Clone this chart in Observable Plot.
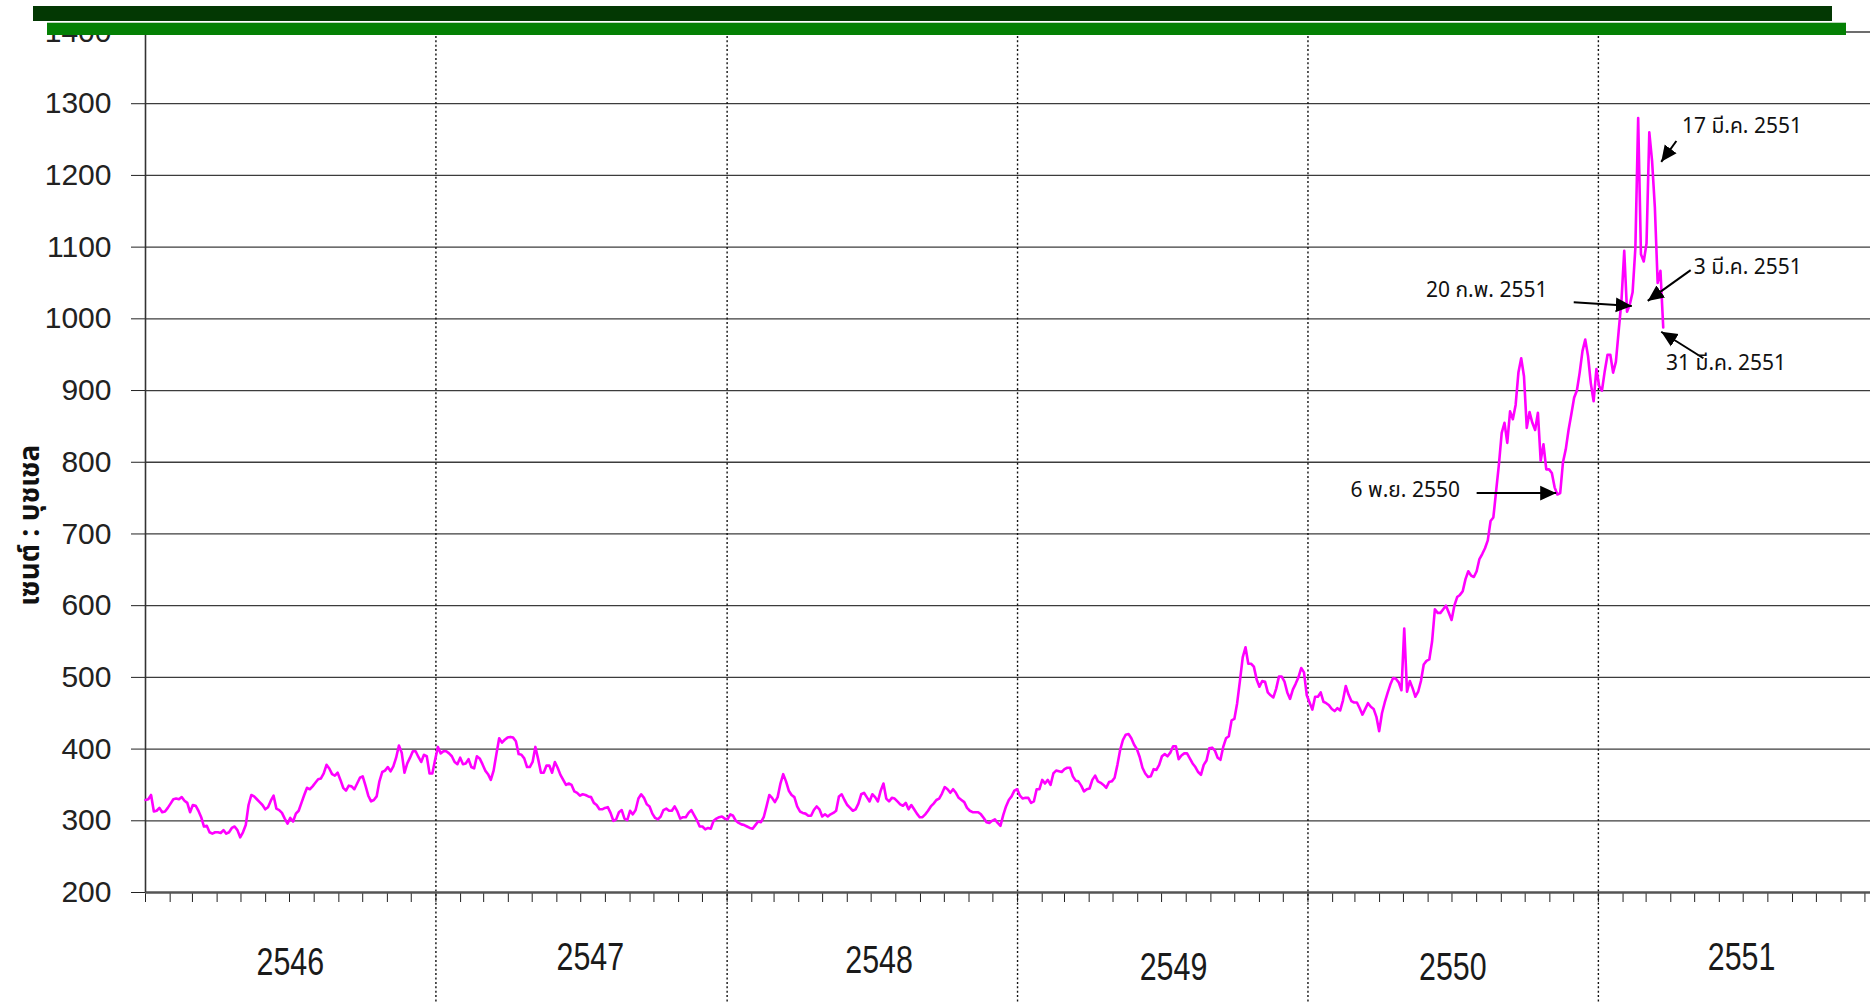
<!DOCTYPE html>
<html>
<head>
<meta charset="utf-8">
<script src="https://cdn.jsdelivr.net/npm/d3@7"></script>
<script src="https://cdn.jsdelivr.net/npm/@observablehq/plot@0.6"></script>
<style>
  html, body { margin: 0; padding: 0; background: #fff; }
  #wrap { position: relative; width: 1870px; height: 1003px; overflow: hidden; }
  .bar { position: absolute; }
</style>
</head>
<body>
<div id="wrap"></div>
<script>
// ---------- data ----------
// price (cents per bushel) read twice a week (every 3.5 days), starting 2003-01-01
const seriesStart = "2003-01-01";
const stepHours = 84;
const price = [
  329,330, 336,313, 314,318, 312,313, 318,324,
  330,331, 330,333, 328,325, 312,322, 321,314,
  305,292, 293,284, 282,284, 284,283, 287,282,
  284,290, 292,287, 277,284, 294,322, 336,334,
  330,326, 322,316, 319,328, 335,317, 315,311,
  303,296, 304,299, 310,314, 325,336, 346,344,
  348,353, 358,359, 366,378, 373,365, 363,367,
  357,346, 342,349, 348,344, 352,360, 362,349,
  335,327, 329,334, 355,368, 370,375, 369,376,
  388,405, 395,367, 380,388, 397,397, 389,382,
  392,390, 366,366, 385,403, 394,397, 397,394,
  390,382, 379,388, 379,380, 386,375, 373,390,
  387,379, 370,365, 357,370, 393,415, 409,413,
  416,417, 416,411, 393,392, 387,375, 375,382,
  403,386, 367,367, 377,377, 367,382, 374,364,
  357,350, 352,350, 341,339, 335,337, 336,334,
  333,325, 322,316, 316,318, 319,311, 300,302,
  312,315, 303,301, 314,309, 315,331, 337,332,
  323,320, 310,304, 302,306, 315,317, 314,314,
  320,313, 303,305, 305,311, 315,308, 301,292,
  292,288, 290,289, 300,303, 305,306, 303,302,
  309,307, 300,297, 295,294, 292,290, 289,294,
  299,298, 305,320, 336,332, 326,333, 352,365,
  355,342, 336,333, 320,313, 311,310, 307,307,
  315,320, 316,306, 309,306, 309,311, 314,334,
  337,329, 322,318, 314,316, 324,337, 339,333,
  327,337, 333,327, 342,352, 331,327, 332,331,
  327,323, 321,325, 316,322, 316,310, 305,305,
  309,314, 320,324, 329,331, 338,347, 344,339,
  344,339, 332,329, 326,318, 314,312, 312,312,
  309,304, 298,297, 300,302, 297,293, 308,320,
  329,334, 342,344, 335,331, 332,332, 325,327,
  344,344, 357,352, 357,350, 366,370, 369,368,
  372,374, 374,362, 356,355, 349,341, 344,345,
  357,363, 355,353, 350,346, 354,355, 360,378,
  399,413, 420,421, 415,406, 400,389, 374,366,
  361,362, 372,371, 378,390, 393,390, 395,404,
  404,386, 391,394, 394,387, 380,375, 368,364,
  378,384, 401,402, 398,388, 385,403, 415,418,
  440,442, 464,495, 528,542, 519,519, 515,497,
  487,495, 494,479, 475,472, 484,501, 501,494,
  479,470, 483,491, 500,513, 507,475, 465,455,
  473,473, 479,466, 464,461, 456,453, 457,454,
  468,488, 476,467, 465,465, 457,448, 456,464,
  459,456, 445,425, 450,465, 478,490, 499,498,
  493,482, 568,480, 495,485, 473,480, 495,518,
  523,525, 550,595, 590,590, 595,600, 590,580,
  600,612, 615,620, 637,648, 642,640, 648,665,
  672,680, 691,718, 723,760, 797,841, 855,827,
  871,860, 880,925, 945,920, 848,870, 855,845,
  869,802, 825,790, 790,785, 765,755, 757,800,
  818,845, 867,890, 900,925, 955,971, 948,910,
  885,930, 906,900, 927,950, 950,925, 940,983,
  1025,1095, 1010,1020, 1037,1099, 1280,1090, 1080,1105,
  1260,1220, 1155,1050, 1067,988
];

const xDomain = ["2003-01-01", "2008-12-08"];
const yDomain = [200, 1400];
const yTicks = [200, 300, 400, 500, 600, 700, 800, 900, 1000, 1100, 1200, 1300, 1400];
const gridValues = [300, 400, 500, 600, 700, 800, 900, 1000, 1100, 1200, 1300, 1400];

const yearLabels = ["2546", "2547", "2548", "2549", "2550", "2551"];
const yearMids = ["2003-07-02", "2004-07-13", "2005-07-11", "2006-07-16", "2007-07-02", "2008-06-29"];
const yearStarts = ["2004-01-01", "2005-01-01", "2006-01-01", "2007-01-01", "2008-01-01"];
const yearLabelShift = [0, -5, -2, 5, 5, -5];

const yTitle = "เซนต์ : บุชเชล";

// annotations: label, text anchor point, arrow tail and tip (date, price)
const annotLabels = ["17 มี.ค. 2551", "3 มี.ค. 2551", "20 ก.พ. 2551", "31 มี.ค. 2551", "6 พ.ย. 2550"];
const annotAnchor = ["start", "start", "end", "start", "end"];
const annotTextDate = ["2008-04-15", "2008-04-30", "2007-10-29", "2008-03-26", "2007-07-11"];
const annotTextPrice = [1268, 1072, 1040, 938, 761];
const arrowTailDate = ["2008-04-08", "2008-04-26", "2007-12-01", "2008-05-12", "2007-08-01"];
const arrowTailPrice = [1248, 1068, 1023, 945, 757];
const arrowTipDate = ["2008-03-20", "2008-03-03", "2008-02-12", "2008-03-20", "2007-11-09"];
const arrowTipPrice = [1219, 1025, 1018, 982, 757];

// ---------- build tables ----------
const t0 = new Date(seriesStart);
const series = price.map((p, i) => ({date: d3.utcHour.offset(t0, stepHours * i), price: p}));
const monthTicks = d3.utcMonth.range(new Date(xDomain[0]), new Date(xDomain[1]));
const years = yearLabels.map((l, i) => ({label: l, date: new Date(yearMids[i])}));
const annots = annotLabels.map((l, i) => ({
  label: l, anchor: annotAnchor[i],
  date: new Date(annotTextDate[i]), price: annotTextPrice[i],
  x1: new Date(arrowTailDate[i]), y1: arrowTailPrice[i],
  x2: new Date(arrowTipDate[i]), y2: arrowTipPrice[i]
}));

const thaiFont = "'Noto Sans Thai', 'Noto Sans', Loma, Garuda, 'Liberation Sans', Arial, sans-serif";

const yearMarks = years.map((d, i) => Plot.text([d], {
  x: "date", text: "label", frameAnchor: "bottom", lineAnchor: "middle", textAnchor: "middle",
  dy: 70 + yearLabelShift[i], fontSize: 38, fontFamily: "'Liberation Sans', Arial, sans-serif", fill: "#1a1a1a"
}));

const chart = Plot.plot({
  width: 1870,
  height: 1003,
  marginLeft: 145,
  marginRight: 0,
  marginTop: 31.5,
  marginBottom: 111,
  style: {fontFamily: "'Liberation Sans', Arial, sans-serif", fontSize: "30px", color: "#222", background: "#fff", overflow: "visible"},
  x: {type: "utc", domain: xDomain.map(d => new Date(d)), ticks: monthTicks, tickFormat: () => "", tickSize: 10, tickPadding: 0, label: null},
  y: {domain: yDomain, ticks: yTicks, tickSize: 14, tickPadding: 20, tickFormat: d => String(d), label: null},
  marks: [
    Plot.ruleY(gridValues, {stroke: "#3c3c3c", strokeWidth: 1.3}),
    Plot.ruleX(yearStarts.map(d => new Date(d)), {stroke: "#111", strokeWidth: 1.4, strokeDasharray: "2,2.4", insetBottom: -111}),
    Plot.ruleY([200], {stroke: "#555", strokeWidth: 2.6}),
    Plot.ruleX([new Date(xDomain[0])], {stroke: "#333", strokeWidth: 1.6}),
    Plot.line(series, {x: "date", y: "price", stroke: "#ff00ff", strokeWidth: 2.6, strokeLinejoin: "round"}),
    ...yearMarks,
    Plot.text([yTitle], {text: d => d, frameAnchor: "left", textAnchor: "middle", lineAnchor: "middle",
      rotate: -90, dx: -115, dy: 63, fontSize: 28, fontWeight: "bold", fontFamily: thaiFont, fill: "#111"}),
    Plot.link(annots, {x1: "x1", y1: "y1", x2: "x2", y2: "y2", stroke: "#000", strokeWidth: 2, markerEnd: "arrow"}),
    Plot.text(annots.filter(d => d.anchor === "start"), {x: "date", y: "price", text: "label", textAnchor: "start",
      fontSize: 21, fontFamily: thaiFont, fill: "#111"}),
    Plot.text(annots.filter(d => d.anchor === "end"), {x: "date", y: "price", text: "label", textAnchor: "end",
      fontSize: 21, fontFamily: thaiFont, fill: "#111"})
  ]
});

const svg = chart.tagName.toLowerCase() === "svg" ? chart : chart.querySelector("svg");
// filled arrowheads
svg.querySelectorAll("marker").forEach(m => {
  m.setAttribute("viewBox", "-5 -5 10 10");
  m.setAttribute("markerWidth", 8);
  m.setAttribute("markerHeight", 8);
  m.setAttribute("refX", 5);
  m.setAttribute("refY", 0);
  m.innerHTML = '<path d="M-5,-4.6L5,0L-5,4.6Z" fill="#000" stroke="none"></path>';
});
// condensed look for the year labels
svg.querySelectorAll("text").forEach(t => {
  if (yearLabels.includes(t.textContent)) {
    const tr = t.getAttribute("transform") || "";
    t.setAttribute("transform", tr + " scale(0.8,1)");
  }
});

const wrap = document.getElementById("wrap");
wrap.appendChild(chart);

// decorative header bars
const dark = document.createElement("div");
dark.className = "bar";
Object.assign(dark.style, {left: "33px", top: "6px", width: "1799px", height: "15px", background: "#033803"});
const light = document.createElement("div");
light.className = "bar";
Object.assign(light.style, {left: "47px", top: "22px", width: "1799px", height: "12px", background: "#048004", borderTop: "1px solid #b8d8b8"});
wrap.appendChild(dark);
wrap.appendChild(light);
</script>
</body>
</html>
